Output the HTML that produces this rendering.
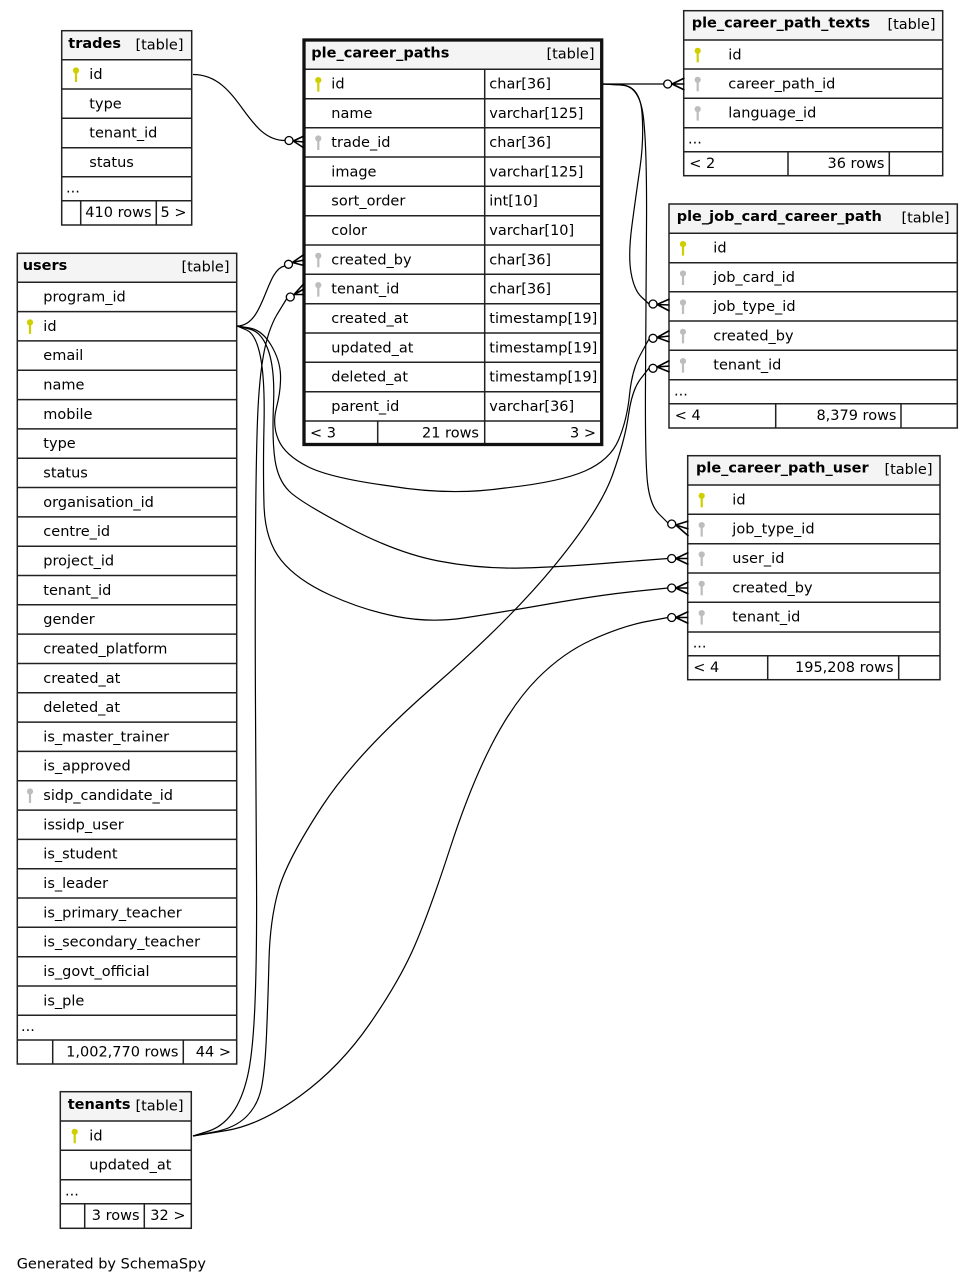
<!DOCTYPE html>
<html><head><meta charset="utf-8"><style>
html,body{margin:0;padding:0;background:#fff;}
svg{display:block;}
text{font-family:"DejaVu Sans","Liberation Sans",sans-serif;font-size:14.5px;fill:#000;}
.b{font-weight:bold;}
.e{text-anchor:end;}
.ln{stroke:#222;stroke-width:1.5;fill:none;}
.hd{fill:#f4f4f4;}
.ed{stroke:#000;stroke-width:1.2;fill:none;}
.ci{fill:#fff;stroke:#000;stroke-width:1.3;}
.cr{stroke:#000;stroke-width:1.6;fill:none;}
</style></head><body>
<svg width="973" height="1283" viewBox="0 0 973 1283" xmlns="http://www.w3.org/2000/svg">
<defs>
<g id="pk"><circle cx="0" cy="10.8" r="3.1" fill="#cfcf00"/><rect x="-1.1" y="12" width="2.2" height="10.3" fill="#cfcf00"/></g>
<g id="fk"><circle cx="0" cy="10.8" r="3.1" fill="#bdbdbd"/><rect x="-1.1" y="12" width="2.2" height="10.3" fill="#bdbdbd"/></g>
</defs>
<rect width="973" height="1283" fill="#fff"/>

<!-- trades -->
<rect x="61.7" y="30.7" width="130" height="29" class="hd"/>
<rect x="61.7" y="30.7" width="130" height="194.3" class="ln"/>
<path class="ln" d="M61.7,59.7H191.7M61.7,89H191.7M61.7,118.3H191.7M61.7,147.7H191.7M61.7,176.7H191.7M61.7,200.7H191.7M80.7,200.7V225M156.3,200.7V225"/>
<text class="b" x="68.3" y="48">trades</text><text class="e" x="183.5" y="49.5">[table]</text>
<use href="#pk" x="76" y="59.7"/>
<text x="89.3" y="79">id</text>
<text x="89.3" y="108.3">type</text>
<text x="89.3" y="137.6">tenant_id</text>
<text x="89.3" y="166.8">status</text>
<text x="66" y="192.7">...</text>
<text class="e" x="151.5" y="217">410 rows</text><text class="e" x="186.5" y="217">5 &gt;</text>

<!-- users -->
<rect x="17.3" y="253.3" width="219.4" height="29" class="hd"/>
<rect x="17.3" y="253.3" width="219.4" height="810.7" class="ln"/>
<path class="ln" d="M17.3,282.3H236.7M17.3,311.6H236.7M17.3,340.9H236.7M17.3,370.3H236.7M17.3,399.6H236.7M17.3,428.9H236.7M17.3,458.2H236.7M17.3,487.5H236.7M17.3,516.9H236.7M17.3,546.2H236.7M17.3,575.5H236.7M17.3,604.8H236.7M17.3,634.1H236.7M17.3,663.5H236.7M17.3,692.8H236.7M17.3,722.1H236.7M17.3,751.4H236.7M17.3,780.7H236.7M17.3,810.1H236.7M17.3,839.4H236.7M17.3,868.7H236.7M17.3,898H236.7M17.3,927.3H236.7M17.3,956.7H236.7M17.3,986H236.7M17.3,1015.3H236.7M17.3,1040H236.7M52.7,1040V1064M183.3,1040V1064"/>
<text class="b" x="22.7" y="270">users</text><text class="e" x="229.5" y="271.5">[table]</text>
<use href="#pk" x="30" y="311.6"/>
<use href="#fk" x="30" y="780.7"/>
<text x="43.3" y="301.6">program_id</text>
<text x="43.3" y="330.9">id</text>
<text x="43.3" y="360.2">email</text>
<text x="43.3" y="389.6">name</text>
<text x="43.3" y="418.9">mobile</text>
<text x="43.3" y="448.2">type</text>
<text x="43.3" y="477.5">status</text>
<text x="43.3" y="506.8">organisation_id</text>
<text x="43.3" y="536.2">centre_id</text>
<text x="43.3" y="565.5">project_id</text>
<text x="43.3" y="594.8">tenant_id</text>
<text x="43.3" y="624.1">gender</text>
<text x="43.3" y="653.4">created_platform</text>
<text x="43.3" y="682.8">created_at</text>
<text x="43.3" y="712.1">deleted_at</text>
<text x="43.3" y="741.4">is_master_trainer</text>
<text x="43.3" y="770.7">is_approved</text>
<text x="43.3" y="800">sidp_candidate_id</text>
<text x="43.3" y="829.4">issidp_user</text>
<text x="43.3" y="858.7">is_student</text>
<text x="43.3" y="888">is_leader</text>
<text x="43.3" y="917.3">is_primary_teacher</text>
<text x="43.3" y="946.6">is_secondary_teacher</text>
<text x="43.3" y="976">is_govt_official</text>
<text x="43.3" y="1005.3">is_ple</text>
<text x="21" y="1031">...</text>
<text class="e" x="178.5" y="1056.5">1,002,770 rows</text><text class="e" x="231" y="1056.5">44 &gt;</text>

<!-- tenants -->
<rect x="60.3" y="1091.7" width="131" height="29.3" class="hd"/>
<rect x="60.3" y="1091.7" width="131" height="136.6" class="ln"/>
<path class="ln" d="M60.3,1121H191.3M60.3,1150.3H191.3M60.3,1179.7H191.3M60.3,1203.7H191.3M84.7,1203.7V1228.3M144.3,1203.7V1228.3"/>
<text class="b" x="67.7" y="1109">tenants</text><text class="e" x="183.5" y="1110.5">[table]</text>
<use href="#pk" x="74.7" y="1121"/>
<text x="89.3" y="1140.3">id</text>
<text x="89.3" y="1169.6">updated_at</text>
<text x="65" y="1195.7">...</text>
<text class="e" x="139.5" y="1220.2">3 rows</text><text class="e" x="185.5" y="1220.2">32 &gt;</text>

<!-- ple_career_paths -->
<rect x="304" y="40" width="297.7" height="29.3" class="hd"/>
<path class="ln" d="M304,69.3H601.7M304,98.7H601.7M304,127.7H601.7M304,157H601.7M304,186.3H601.7M304,215.7H601.7M304,245H601.7M304,274.3H601.7M304,303.7H601.7M304,333H601.7M304,362.3H601.7M304,391.7H601.7M304,421H601.7M484.7,69.3V444.5M377.7,421V444.5"/>
<rect x="304" y="40" width="297.7" height="404.5" fill="none" stroke="#111" stroke-width="3.3"/>
<text class="b" x="311.3" y="57.3">ple_career_paths</text><text class="e" x="594.5" y="58.7">[table]</text>
<use href="#pk" x="318.3" y="69.3"/>
<use href="#fk" x="318.3" y="127.7"/>
<use href="#fk" x="318.3" y="245"/>
<use href="#fk" x="318.3" y="274.3"/>
<text x="331.3" y="88.6">id</text><text x="489.3" y="88.6">char[36]</text>
<text x="331.3" y="118">name</text><text x="489.3" y="118">varchar[125]</text>
<text x="331.3" y="147">trade_id</text><text x="489.3" y="147">char[36]</text>
<text x="331.3" y="176.3">image</text><text x="489.3" y="176.3">varchar[125]</text>
<text x="331.3" y="205.6">sort_order</text><text x="489.3" y="205.6">int[10]</text>
<text x="331.3" y="235">color</text><text x="489.3" y="235">varchar[10]</text>
<text x="331.3" y="264.3">created_by</text><text x="489.3" y="264.3">char[36]</text>
<text x="331.3" y="293.6">tenant_id</text><text x="489.3" y="293.6">char[36]</text>
<text x="331.3" y="323">created_at</text><text x="489.3" y="323">timestamp[19]</text>
<text x="331.3" y="352.3">updated_at</text><text x="489.3" y="352.3">timestamp[19]</text>
<text x="331.3" y="381.6">deleted_at</text><text x="489.3" y="381.6">timestamp[19]</text>
<text x="331.3" y="411">parent_id</text><text x="489.3" y="411">varchar[36]</text>
<text x="310" y="437.5">&lt; 3</text><text class="e" x="479" y="437.5">21 rows</text><text class="e" x="596" y="437.5">3 &gt;</text>

<!-- ple_career_path_texts -->
<rect x="683.7" y="10.7" width="259" height="29.3" class="hd"/>
<rect x="683.7" y="10.7" width="259" height="165" class="ln"/>
<path class="ln" d="M683.7,40H942.7M683.7,69H942.7M683.7,98.3H942.7M683.7,127.7H942.7M683.7,151.7H942.7M788,151.7V175.7M889.3,151.7V175.7"/>
<text class="b" x="691.7" y="27.7">ple_career_path_texts</text><text class="e" x="935.5" y="29.2">[table]</text>
<use href="#pk" x="697.7" y="40"/>
<use href="#fk" x="697.7" y="69"/>
<use href="#fk" x="697.7" y="98.3"/>
<text x="728.3" y="59.3">id</text>
<text x="728.3" y="88.3">career_path_id</text>
<text x="728.3" y="117.6">language_id</text>
<text x="688" y="143.7">...</text>
<text x="689.3" y="168.2">&lt; 2</text><text class="e" x="884.5" y="168.2">36 rows</text>

<!-- ple_job_card_career_path -->
<rect x="669" y="204" width="288.3" height="29.3" class="hd"/>
<rect x="669" y="204" width="288.3" height="224" class="ln"/>
<path class="ln" d="M669,233.3H957.3M669,262.7H957.3M669,291.7H957.3M669,321H957.3M669,350.3H957.3M669,379.7H957.3M669,403.7H957.3M775.7,403.7V428M901,403.7V428"/>
<text class="b" x="676.7" y="221">ple_job_card_career_path</text><text class="e" x="949.5" y="222.5">[table]</text>
<use href="#pk" x="683" y="233.3"/>
<use href="#fk" x="683" y="262.7"/>
<use href="#fk" x="683" y="291.7"/>
<use href="#fk" x="683" y="321"/>
<use href="#fk" x="683" y="350.3"/>
<text x="713.3" y="252.6">id</text>
<text x="713.3" y="282">job_card_id</text>
<text x="713.3" y="311">job_type_id</text>
<text x="713.3" y="340.3">created_by</text>
<text x="713.3" y="369.6">tenant_id</text>
<text x="674" y="395.7">...</text>
<text x="674.7" y="420.2">&lt; 4</text><text class="e" x="896.5" y="420.2">8,379 rows</text>

<!-- ple_career_path_user -->
<rect x="687.7" y="455.7" width="252.3" height="29.3" class="hd"/>
<rect x="687.7" y="455.7" width="252.3" height="224" class="ln"/>
<path class="ln" d="M687.7,485H940M687.7,514.3H940M687.7,543.7H940M687.7,573H940M687.7,602.3H940M687.7,632H940M687.7,655.7H940M767.7,655.7V679.7M898.7,655.7V679.7"/>
<text class="b" x="696" y="472.7">ple_career_path_user</text><text class="e" x="932.5" y="474.2">[table]</text>
<use href="#pk" x="701.7" y="485"/>
<use href="#fk" x="701.7" y="514.3"/>
<use href="#fk" x="701.7" y="543.7"/>
<use href="#fk" x="701.7" y="573"/>
<use href="#fk" x="701.7" y="602.3"/>
<text x="732.3" y="504.3">id</text>
<text x="732.3" y="533.6">job_type_id</text>
<text x="732.3" y="563">user_id</text>
<text x="732.3" y="592.3">created_by</text>
<text x="732.3" y="621.6">tenant_id</text>
<text x="692.7" y="647.7">...</text>
<text x="693.3" y="672.2">&lt; 4</text><text class="e" x="893.5" y="672.2">195,208 rows</text>

<!-- edges -->
<path class="ed" d="M193,74.5 C240,74.5 245,140.5 285,140.5"/>
<path class="ed" d="M237,326 C265,326 265,270 284.5,266"/>
<path class="ed" d="M193,1136 L207.5,1131.5 Q222,1127 232,1113.5 Q242,1100 247.5,1076.5 Q253,1053 255,1003 Q257,953 256.5,876.5 Q256,800 255.5,710 Q255,620 255.5,540 Q256,460 257.5,420 Q259,380 263.5,355 Q268,330 277,314.5 L286.5,299"/>
<path class="ed" d="M603,84 L663.5,84"/>
<path class="ed" d="M603,84 L621.5,85 Q640,86 642,113 Q644,140 640,167.5 Q636,195 632,225 Q628,255 631,272.5 Q634,290 641.5,297 L649,304"/>
<path class="ed" d="M603,84 L621.5,85 Q640,86 643.5,118 Q647,150 646.5,225 Q646,300 645.5,380 Q645,460 647.5,482.5 Q650,505 659,514 L668,523"/>
<path class="ed" d="M237,326 L249.5,328 Q262,330 271,345 Q280,360 280.5,375 Q281,390 276.5,407.5 Q272,425 278.5,440 Q285,455 307.5,466.5 Q330,478 390,486 Q450,496 505,488 Q560,482 585,471 Q610,460 618.5,440 Q627,420 629.5,395 Q632,370 640.5,354.5 L649,339"/>
<path class="ed" d="M193,1136 L214,1132 Q235,1128 246.5,1116.5 Q258,1105 261.5,1087.5 Q265,1070 266.5,1035 Q268,1000 269,960 Q270,920 278.5,890 Q287,860 322,806.5 Q357,753 433.5,686.5 Q510,620 555,565 Q600,510 612.5,475 Q625,440 628.5,415 Q632,390 640.5,379 L649,368"/>
<path class="ed" d="M193,1136 L226.5,1130.5 Q260,1125 300,1096 Q340,1067 370,1023.5 Q400,980 415,945 Q430,910 450,848.5 Q470,787 491.5,745 Q513,703 538,678 Q563,653 591.5,640 Q620,627 644,622 L668,617.5"/>
<path class="ed" d="M237,326 L249.5,329 Q262,332 268.5,351 Q275,370 273.5,405 Q272,440 275,460 Q278,480 289,491 Q300,502 348.5,527.5 Q397,553 438.5,561 Q480,569 521.5,568 Q563,567 615.5,562.5 L668,558.5"/>
<path class="ed" d="M237,326 L246.5,330 Q256,334 260.5,357 Q265,380 264,425 Q263,470 264,505 Q265,540 281,560 Q297,580 330,595 Q363,610 396.5,616.5 Q430,623 463.5,618 Q497,613 548.5,604 Q600,595 634,591.5 L668,588"/>

<!-- crow's feet + circles -->
<path class="cr" d="M293.2,141L304,136M293.2,141L304,142M293.2,141L304,148"/><circle class="ci" cx="289" cy="140.5" r="4"/>
<path class="cr" d="M292.3,262.5L304,254.5M292.3,262.5L304,260M292.3,262.5L304,265.5"/><circle class="ci" cx="288.5" cy="264.3" r="4"/>
<path class="cr" d="M294,294.5L304,283.5M294,294.5L304,289M294,294.5L304,294.5"/><circle class="ci" cx="290.3" cy="297" r="4"/>
<path class="cr" d="M672,84L684.5,78M672,84L684.5,84M672,84L684.5,90"/><circle class="ci" cx="667.7" cy="84" r="4"/>
<path class="cr" d="M657,304.5L669.5,299M657,304.5L669.5,305M657,304.5L669.5,311"/><circle class="ci" cx="653" cy="304" r="4"/>
<path class="cr" d="M657,337.5L669.5,330.5M657,337.5L669.5,336M657,337.5L669.5,342"/><circle class="ci" cx="653" cy="338.3" r="4"/>
<path class="cr" d="M657,367L669.5,360.5M657,367L669.5,366M657,367L669.5,372"/><circle class="ci" cx="653" cy="368.3" r="4"/>
<path class="cr" d="M675.7,525L688.5,521M675.7,525L688.5,529M675.7,525L688.5,536"/><circle class="ci" cx="671.7" cy="524" r="4"/>
<path class="cr" d="M675.7,558.5L688.5,552.5M675.7,558.5L688.5,558.5M675.7,558.5L688.5,564.5"/><circle class="ci" cx="671.7" cy="558.5" r="4"/>
<path class="cr" d="M675.7,588L688.5,582M675.7,588L688.5,588M675.7,588L688.5,594"/><circle class="ci" cx="671.7" cy="588" r="4"/>
<path class="cr" d="M675.7,617.5L688.5,611.5M675.7,617.5L688.5,617.5M675.7,617.5L688.5,623.5"/><circle class="ci" cx="671.7" cy="617.5" r="4"/>

<text x="16.7" y="1268.3">Generated by SchemaSpy</text>
</svg>
</body></html>
